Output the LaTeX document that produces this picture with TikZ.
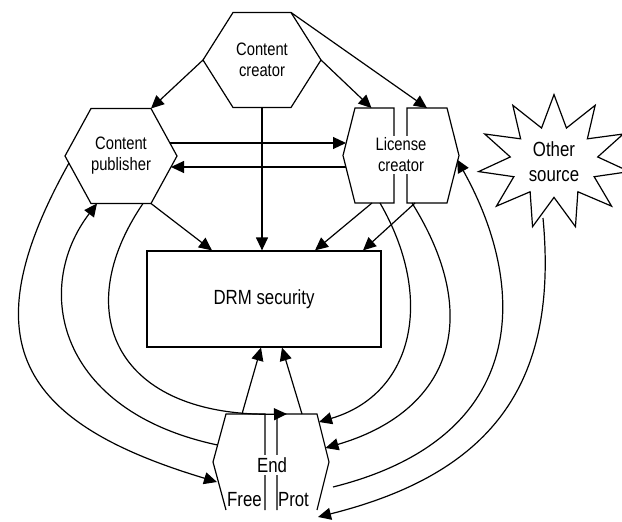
\documentclass[tikz,border=0pt]{standalone}
\usepackage{fontspec}
\setmainfont{Liberation Sans}[FakeStretch=0.82]
\usepackage{tikz}
\usetikzlibrary{arrows.meta,backgrounds,shapes.symbols}
\newcommand{\hexfont}{\fontsize{18}{21}\selectfont}
\newcommand{\bigfont}{\fontsize{20.5}{25}\selectfont}
\tikzset{
  hex/.style={inner sep=0pt, outer sep=0pt, minimum height=95pt, font=\hexfont, align=center},
  half/.style={inner sep=0pt, outer sep=0pt, minimum height=95pt},
  gap text/.style={fill=white, inner sep=2pt, align=center},
  flow/.style={-{Triangle[length=13pt,width=12pt]}},
  }

\begin{document}
\begin{tikzpicture}[x=1pt, y=1pt, line width=1.2pt]
            \useasboundingbox (0,0) rectangle (622,-522);

            % Nodes
            \node[hex, minimum width=118pt] (creator) at (262,-60) {Content\\creator};
            \node[hex, minimum width=112pt] (publisher) at (121,-156) {Content\\publisher};
            \node[half, minimum width=51pt] (licL) at (368.5,-155.5) {};
            \node[half, minimum width=52pt] (licR) at (433,-155.5) {};
            \node[gap text, font=\hexfont] (license) at (401,-155) {License\\creator};
            \node[draw, minimum width=234pt, minimum height=96pt, font=\bigfont] (drm) at (264,-299) {DRM security};
            \node[draw, starburst, starburst points=11, starburst point height=32pt,
                  random starburst=0, inner xsep=6pt, inner ysep=5pt,
                  font=\bigfont, align=center] (other) at (554,-162) {Other\\source};
            \node[half, minimum width=52pt, minimum height=96pt] (endL) at (239,-462) {};
            \node[half, minimum width=52pt, minimum height=96pt] (endR) at (303,-462) {};
            \node[gap text, font=\bigfont] (end) at (272,-465) {End};
            \node[font=\bigfont, inner sep=0pt] (free) at (244.5,-500) {Free};
            \node[font=\bigfont, inner sep=0pt] (prot) at (293.5,-500) {Prot};

            % Outline
            \begin{scope}[on background layer={line width=1.2pt}]
                \draw ([xshift=30pt]creator.north west) -- ([xshift=-30pt]creator.north east) -- (creator.east) -- ([xshift=-30pt]creator.south east) -- ([xshift=30pt]creator.south west) -- (creator.west) -- cycle;
                \draw ([xshift=26pt]publisher.north west) -- ([xshift=-26pt]publisher.north east) -- (publisher.east) -- ([xshift=-26pt]publisher.south east) -- ([xshift=26pt]publisher.south west) -- (publisher.west) -- cycle;
                \draw (licL.north east) -- ([xshift=12pt]licL.north west) -- (licL.west) -- ([xshift=12pt]licL.south west) -- (licL.south east) -- cycle;
                \draw (licR.north west) -- ([xshift=-12pt]licR.north east) -- (licR.east) -- ([xshift=-12pt]licR.south east) -- (licR.south west) -- cycle;
                \draw (endL.south east) -- (endL.north east) -- ([xshift=13pt]endL.north west) -- (endL.west) -- ([xshift=13pt]endL.south west);
                \draw (endR.south west) -- (endR.north west) -- ([xshift=-12pt]endR.north east) -- (endR.east) -- ([xshift=-12pt]endR.south east);
            \end{scope}

            % Straight arrows
            \draw[flow] (creator.west) -- ([xshift=-26pt]publisher.north east);
            \draw[flow] (creator.east) -- ([xshift=3pt]licL.north);
            \draw[flow] ([xshift=-30pt]creator.north east) -- ([xshift=-6pt]licR.north);
            \draw[flow] (creator.south) -- (creator.south |- drm.north);
            \draw[flow] ([xshift=-7pt,yshift=13pt]publisher.east) -- ([xshift=3pt,yshift=12.5pt]licL.west);
            \draw[flow] ([xshift=3pt,yshift=-11.5pt]licL.west) -- ([xshift=-6pt,yshift=-11pt]publisher.east);
            \draw[flow] ([xshift=-26pt]publisher.south east) -- ([xshift=-52pt]drm.north);
            \draw[flow] ([xshift=3.5pt]licL.south) -- ([xshift=51pt]drm.north);
            \draw[flow] ([xshift=-18pt]licR.south) -- ([xshift=99pt]drm.north);
            \draw[flow] ([xshift=3pt]endL.north) -- ([xshift=-3pt]drm.south);
            \draw[flow] ([xshift=-1pt]endR.north) -- ([xshift=18pt]drm.south);

            % Curved arrows, left
            \draw[flow] ([xshift=4pt,yshift=-7pt]publisher.west) .. controls +(-99,-177) and +(-200,60) .. ([xshift=4pt,yshift=-20pt]endL.west);
            \draw[flow] ([xshift=4.5pt,yshift=17pt]endL.west) .. controls +(-160,34) and +(-65,-85) .. ([xshift=-24pt]publisher.south);
            \draw[flow] ([xshift=22pt]publisher.south) .. controls +(-75,-110) and +(-170,-3) .. ([xshift=-16pt]endR.north);

            % Curved arrows, right
            \draw[flow] ([xshift=11.5pt]licL.south) .. controls +(55,-95) and +(95,28) .. ([xshift=-10pt,yshift=40pt]endR.east);
            \draw[flow] ([xshift=-21pt]licR.south) .. controls +(75,-120) and +(120,35) .. ([xshift=-3.5pt,yshift=14pt]endR.east);
            \draw[flow] ([xshift=4pt,yshift=-25pt]endR.east) .. controls +(200,50) and +(70,-125) .. ([xshift=-2pt,yshift=-4pt]licR.east);
            \draw[flow] ([xshift=-11pt,yshift=-56pt]other.center) .. controls +(15,-160) and +(180,45) .. ([xshift=-11pt,yshift=-7pt]endR.south east);
        \end{tikzpicture}
\end{document}
